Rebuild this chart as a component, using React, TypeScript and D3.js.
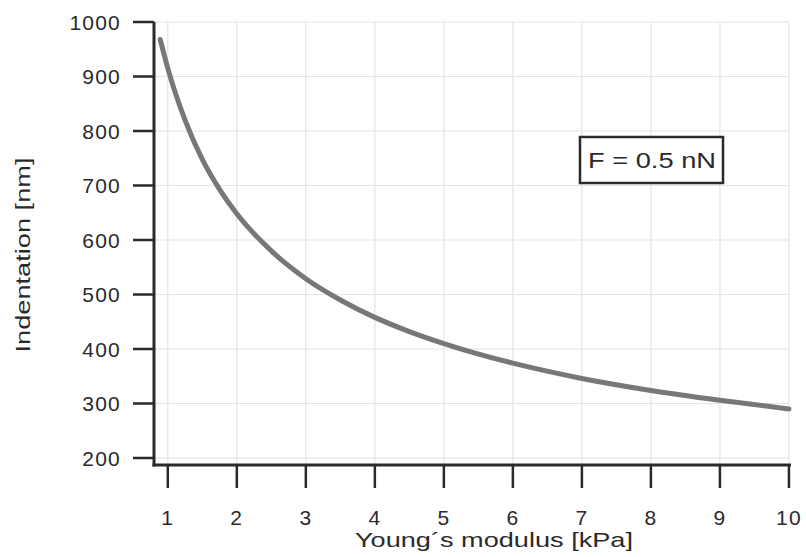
import React from "react";
import * as d3 from "d3";

const youngs = [0.89, 1, 1.25, 1.5, 1.75, 2, 2.5, 3, 3.5, 4, 4.5, 5, 6, 7, 8, 9, 10];
const indentation = [968, 915, 820, 748, 693, 648, 580, 529, 490, 458, 432, 410, 374, 346, 324, 306, 290];
const xTicks = [1, 2, 3, 4, 5, 6, 7, 8, 9, 10];
const yTicks = [200, 300, 400, 500, 600, 700, 800, 900, 1000];
const xTitle = "Young´s modulus [kPa]";
const yTitle = "Indentation [nm]";
const legendText = "F = 0.5 nN";

export default function App() {
  const W = 806, H = 557;
  const x = d3.scaleLinear().domain([0.8, 10.03]).range([154, 791]);
  const y = d3.scaleLinear().domain([200, 1000]).range([458, 22]);
  const axisY = 465;
  const axisX = 154;
  const pts = youngs.map((e, i) => [e, indentation[i]] as [number, number]);
  const line = d3.line<[number, number]>().x(d => x(d[0])).y(d => y(d[1])).curve(d3.curveMonotoneX);
  const axisColor = "#2a2a2a";
  const font = "'Liberation Sans', Arial, Helvetica, sans-serif";
  return (
    <svg width={W} height={H} style={{ position: "absolute", left: 0, top: 0, background: "#fff" }} fontFamily={font}>
      {xTicks.map(t => (
        <line key={"gx" + t} x1={x(t)} x2={x(t)} y1={y(1000)} y2={axisY} stroke="#e4e4e4" strokeWidth={1.2} />
      ))}
      {yTicks.map(t => (
        <line key={"gy" + t} x1={axisX} x2={x(10)} y1={y(t)} y2={y(t)} stroke="#e4e4e4" strokeWidth={1.2} />
      ))}
      <path d={line(pts) || ""} fill="none" stroke="#777" strokeWidth={5} strokeLinecap="round" />
      <line x1={axisX} x2={axisX} y1={y(1000)} y2={axisY + 1.5} stroke={axisColor} strokeWidth={3} />
      <line x1={axisX - 1.5} x2={x(10.03)} y1={axisY} y2={axisY} stroke={axisColor} strokeWidth={3} />
      {yTicks.map(t => (
        <g key={"ty" + t}>
          <line x1={axisX - 21} x2={axisX} y1={y(t)} y2={y(t)} stroke={axisColor} strokeWidth={2.5} />
          <text x={121} y={y(t)} dy="0.36em" textAnchor="end" fontSize={21} fill={axisColor} letterSpacing={1.2}>{t}</text>
        </g>
      ))}
      {xTicks.map(t => (
        <g key={"tx" + t}>
          <line x1={x(t)} x2={x(t)} y1={axisY} y2={axisY + 23} stroke={axisColor} strokeWidth={2.5} />
          <text x={x(t)} y={525} textAnchor="middle" fontSize={21} fill={axisColor} letterSpacing={1.2}>{t}</text>
        </g>
      ))}
      <text x={494} y={547} textAnchor="middle" fontSize={21} fill={axisColor} textLength={278} lengthAdjust="spacingAndGlyphs">{xTitle}</text>
      <text transform="translate(30,255) rotate(-90)" textAnchor="middle" fontSize={21} fill={axisColor} textLength={195} lengthAdjust="spacingAndGlyphs">{yTitle}</text>
      <rect x={580} y={137} width={143} height={46} fill="#fff" stroke={axisColor} strokeWidth={2.5} />
      <text x={652} y={168} textAnchor="middle" fontSize={22} fill={axisColor} textLength={128} lengthAdjust="spacingAndGlyphs">{legendText}</text>
    </svg>
  );
}
